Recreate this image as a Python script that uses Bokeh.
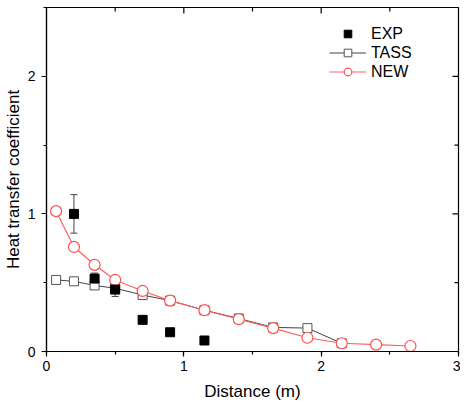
import math
from bokeh.plotting import figure
from bokeh.models import Range1d, SingleIntervalTicker, Whisker, ColumnDataSource, Legend, LegendItem
from bokeh.embed import file_html
from bokeh.resources import INLINE

exp_x = [0.2, 0.35, 0.5, 0.7, 0.9, 1.15]
exp_y = [1.0, 0.53, 0.45, 0.23, 0.14, 0.08]
exp_err = [0.14, 0.04, 0.05, 0.0, 0.0, 0.0]

tass_x = [0.07, 0.2, 0.35, 0.5, 0.7, 0.9, 1.15, 1.4, 1.65, 1.9, 2.15]
tass_y = [0.52, 0.51, 0.48, 0.46, 0.41, 0.37, 0.30, 0.24, 0.175, 0.17, 0.06]

new_x = [0.07, 0.2, 0.35, 0.5, 0.7, 0.9, 1.15, 1.4, 1.65, 1.9, 2.15, 2.4, 2.65]
new_y = [1.02, 0.76, 0.63, 0.52, 0.44, 0.37, 0.30, 0.235, 0.17, 0.10, 0.06, 0.05, 0.04]

# tick positions for the top / right frame edges
x_major = [1, 2]
x_minor = [0.5, 1.5, 2.5]
y_major = [1, 2]
y_minor = [0.5, 1.5]
X_MAX, Y_MAX = 3, 2.5

FONT = "Liberation Sans"

p = figure(width=460, height=404, output_backend="svg", toolbar_location=None,
           x_range=Range1d(0, X_MAX), y_range=Range1d(0, Y_MAX),
           min_border_left=41, min_border_top=7, min_border_right=2, min_border_bottom=53)
p.xgrid.visible = False
p.ygrid.visible = False
p.outline_line_color = "black"
p.outline_line_width = 1.2
p.background_fill_color = "white"

for ax in (p.xaxis[0], p.yaxis[0]):
    ax.ticker = SingleIntervalTicker(interval=1, num_minor_ticks=2)
    ax.major_tick_in = 0
    ax.major_tick_out = 5
    ax.minor_tick_in = 0
    ax.minor_tick_out = 3
    ax.axis_line_color = "black"
    ax.axis_line_width = 1.2
    ax.major_tick_line_color = "black"
    ax.minor_tick_line_color = "black"
    ax.major_tick_line_width = 1.2
    ax.minor_tick_line_width = 1.2
    ax.major_label_text_font = FONT
    ax.major_label_text_font_size = "14px"
    ax.major_label_text_color = "black"
    ax.axis_label_text_font = FONT
    ax.axis_label_text_font_style = "normal"
    ax.axis_label_text_font_size = "17px"
    ax.axis_label_text_color = "black"

p.xaxis[0].axis_label = "Distance (m)"
p.yaxis[0].axis_label = "Heat transfer coefficient"
p.xaxis[0].major_label_standoff = 4
p.yaxis[0].major_label_standoff = 6
p.xaxis[0].axis_label_standoff = 8
p.yaxis[0].axis_label_standoff = 2

# inward ticks on the top and right edges (clipped to the frame)
p.scatter(x_major, [Y_MAX] * len(x_major), marker="dash", angle=math.pi / 2, size=12,
          line_color="black", line_width=1.2)
p.scatter(x_minor, [Y_MAX] * len(x_minor), marker="dash", angle=math.pi / 2, size=8,
          line_color="black", line_width=1.2)
p.scatter([X_MAX] * len(y_major), y_major, marker="dash", size=12,
          line_color="black", line_width=1.2)
p.scatter([X_MAX] * len(y_minor), y_minor, marker="dash", size=8,
          line_color="black", line_width=1.2)

# error bars
src = ColumnDataSource(dict(x=exp_x, lo=[y - e for y, e in zip(exp_y, exp_err)],
                            hi=[y + e for y, e in zip(exp_y, exp_err)]))
w = Whisker(source=src, base="x", lower="lo", upper="hi", line_color="#444444", line_width=1)
w.upper_head.size = 7
w.lower_head.size = 7
w.upper_head.line_color = "#444444"
w.lower_head.line_color = "#444444"
p.add_layout(w)

tl = p.line(tass_x, tass_y, line_color="#444444", line_width=1)
ts = p.scatter(tass_x, tass_y, marker="square", size=9, fill_color="white",
               line_color="#555555", line_width=1)
nl = p.line(new_x, new_y, line_color="#ff6060", line_width=1.2)
nc = p.scatter(new_x, new_y, marker="circle", size=11, fill_color="white",
               line_color="#ff5050", line_width=1.2)
es = p.scatter(exp_x, exp_y, marker="square", size=9, fill_color="black", line_color="black")

legend = Legend(items=[LegendItem(label="EXP", renderers=[es]),
                       LegendItem(label="TASS", renderers=[tl, ts]),
                       LegendItem(label="NEW", renderers=[nl, nc])],
                location=(283, 270))
legend.border_line_color = None
legend.background_fill_alpha = 0
legend.padding = 0
legend.margin = 0
legend.spacing = 0
legend.glyph_width = 37
legend.glyph_height = 19
legend.label_height = 19
legend.label_standoff = 5
legend.label_text_font = FONT
legend.label_text_font_size = "16px"
legend.label_text_color = "black"
p.add_layout(legend, "center")

open("out.html", "w").write(file_html(p, INLINE))
